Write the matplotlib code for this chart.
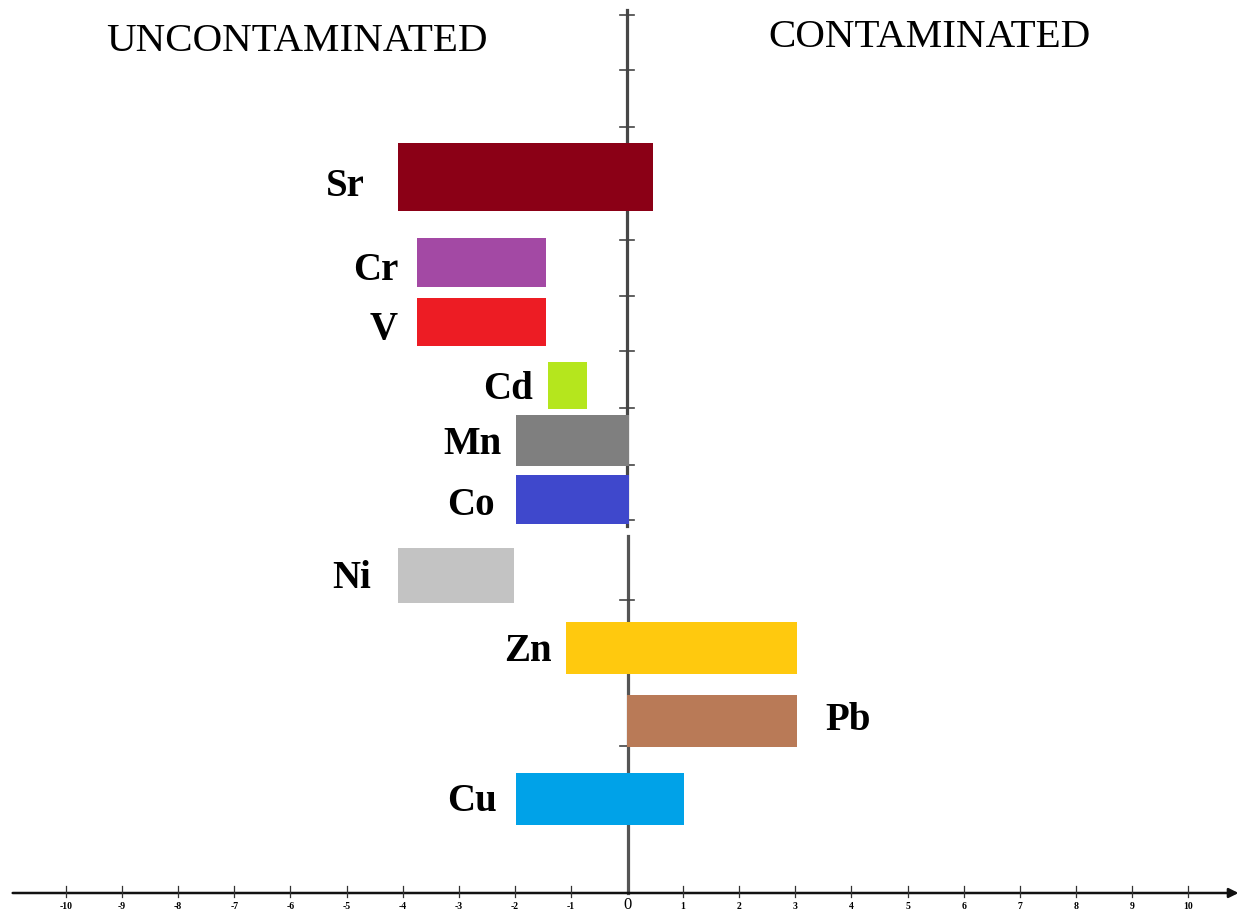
from matplotlib import pyplot as plt

# element, bar start, bar end (axis units)
elements = ['Sr', 'Cr', 'V', 'Cd', 'Mn', 'Co', 'Ni', 'Zn', 'Pb', 'Cu']
starts = [-4.08, -3.75, -3.75, -1.41, -1.98, -1.98, -4.08, -1.09, 0.0, -1.98]
ends = [0.46, -1.44, -1.44, -0.71, 0.04, 0.04, -2.01, 3.03, 3.03, 1.02]
colors = ['#8B0016', '#A349A4', '#ED1C24', '#B5E61D', '#7F7F7F',
          '#3F48CC', '#C3C3C3', '#FFC90E', '#B97A57', '#00A2E8']
x_ticks = list(range(-10, 11))

# layout (axis units: 1 unit = 56.1 px)
bar_y = [12.76, 11.24, 10.18, 9.05, 8.07, 7.01, 5.66, 4.37, 3.07, 1.68]
bar_h = [1.21, 0.87, 0.86, 0.84, 0.91, 0.87, 0.98, 0.93, 0.93, 0.93]
label_x = [-4.67, -4.08, -4.08, -1.68, -2.23, -2.35, -4.56, -1.35, 3.53, -2.32]
label_y = [12.6, 11.1, 10.05, 8.98, 8.0, 6.9, 5.6, 4.3, 3.07, 1.63]
label_ha = ['right'] * 8 + ['left', 'right']
y_ticks = [15.65, 14.67, 13.65, 12.66, 11.64, 10.64, 9.66, 8.65,
           7.63, 6.65, 5.22, 2.62]


def main():
  fig = plt.figure(figsize=(12.43, 9.15), dpi=100)
  ax = fig.add_axes([0, 0, 1, 1])
  ax.set_xlim(-627 / 56.1, 616 / 56.1)
  ax.set_ylim(-22 / 56.1, 893 / 56.1)
  ax.axis('off')

  serif = ['Liberation Serif', 'DejaVu Serif']

  # vertical axis (drawn in two pieces, as in the original)
  ax.plot([0, 0], [6.55, 15.74], color='#474747', lw=2.3, zorder=1)
  ax.plot([0.01, 0.01], [0, 6.36], color='#555555', lw=2.3, zorder=1)
  for yt in y_ticks:
    ax.plot([-0.13, 0.13], [yt, yt], color='#444444', lw=1.2, zorder=1)

  # horizontal axis with arrow
  ax.annotate('', xy=(10.95, 0), xytext=(-11.0, 0),
              arrowprops=dict(arrowstyle='-|>', color='#111111', lw=1.8,
                              mutation_scale=14), zorder=3)
  for xt in x_ticks:
    if xt != 0:
      ax.plot([xt, xt], [-0.08, 0.12], color='#333333', lw=0.9, zorder=3)
      ax.text(xt, -0.24, str(xt), ha='center', va='center', fontsize=7,
              fontweight='bold', family=serif)
  ax.text(0, -0.22, '0', ha='center', va='center', fontsize=12,
          family=serif)

  # bars
  for i, el in enumerate(elements):
    ax.barh(bar_y[i], ends[i] - starts[i], left=starts[i], height=bar_h[i],
            color=colors[i], zorder=2)
    ax.text(label_x[i], label_y[i], el, ha=label_ha[i], va='center',
            fontsize=28, fontweight='bold', family=serif)

  ax.text(-9.28, 15.17, 'UNCONTAMINATED', ha='left', va='center',
          fontsize=29.5, family=serif)
  ax.text(2.52, 15.25, 'CONTAMINATED', ha='left', va='center',
          fontsize=29.5, family=serif)

  fig.savefig('out.png', dpi=100)


if __name__ == '__main__':
  main()
